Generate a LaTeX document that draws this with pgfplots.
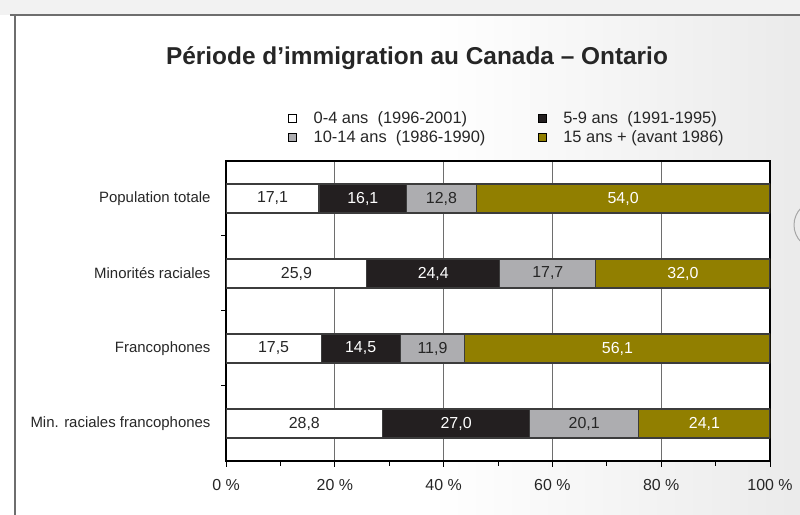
\documentclass[border=0pt]{standalone}
\usepackage{fontspec}
\setmainfont{Liberation Sans}
\usepackage{pgfplots}
\usepackage{pgfplotstable}
\pgfplotsset{compat=1.18}
\definecolor{barBlack}{RGB}{35,31,32}
\definecolor{barGray}{RGB}{173,173,176}
\definecolor{barOlive}{RGB}{145,127,0}
\definecolor{edgeGray}{RGB}{60,60,60}
\definecolor{gridGray}{RGB}{110,110,110}
\definecolor{frameGray}{RGB}{110,110,110}

\pgfplotstableread{
cat a b c d
0 17.1 16.1 12.8 54.0
1 25.9 24.4 17.7 32.0
2 17.5 14.5 11.9 56.1
3 28.8 27.0 20.1 24.1
}\immdata

\begin{document}
\begin{tikzpicture}[x=1bp,y=1bp]
\useasboundingbox (0,0) rectangle (800,515);
% faint background texture
\shade[left color=white, right color=black!8] (430,0) rectangle (800,515);
\fill[black!5] (0,500) rectangle (800,515);
\draw[frameGray, line width=1.4bp] (10,500) -- (800,500);
\draw[frameGray, line width=1.4bp] (15,500) -- (15,0);
\draw[gray!70, line width=1bp] (818,290) circle (24);

\node[font=\bfseries\fontsize{24.5}{28}\selectfont, text=black!85] at (417,457) {Période d’immigration au Canada – Ontario};

\begin{axis}[
  at={(226bp,54bp)}, anchor=south west,
  scale only axis,
  width=544bp, height=300bp,
  xbar stacked,
  bar width=29bp,
  xmin=0, xmax=100,
  ymin=-0.5, ymax=3.5,
  y dir=reverse,
  axis background/.style={fill=white},
  axis line style={black, line width=1.2bp},
  xtick={0,20,40,60,80,100},
  xticklabels={0 \%,20 \%,40 \%,60 \%,80 \%,100 \%},
  minor xtick={10,30,50,70,90},
  ytick={0,1,2,3},
  yticklabels={Population totale,Minorités raciales\ ,Francophones,Min. raciales francophones},
  minor ytick={0.5,1.5,2.5},
  xtick pos=left, ytick pos=left,
  tick align=outside,
  major tick length=6bp, minor tick length=5bp,
  every tick/.style={black, line width=1bp},
  y tick style={draw=none},
  minor y tick style={draw=black, line width=1bp},
  xmajorgrids=true,
  major x grid style={gridGray, line width=1bp},
  yticklabel style={font=\fontsize{15}{17}\selectfont, text=black!85, xshift=-6bp},
  xticklabel style={font=\fontsize{16}{18}\selectfont, text=black!85, yshift=-9bp},
  /pgf/number format/.cd, use comma, fixed, fixed zerofill, precision=1, assume math mode=true,
  /pgfplots/.cd,
  nodes near coords,
  every node near coord/.append style={anchor=center, font=\fontsize{16}{18}\selectfont},
  legend columns=2,
  legend cell align=left,
  legend style={at={(rel axis cs:0.108,1.18)}, anchor=north west, draw=none, fill=none,
    font=\fontsize{16.5}{19}\selectfont, text=black!85, row sep=2bp,
    /tikz/every odd column/.append style={column sep=15bp}},
  legend image code/.code={\draw[#1, draw=black, line width=0.7bp] (0bp,-4bp) rectangle (8bp,4bp);},
]
\addplot[fill=white, draw=edgeGray, line width=1.1bp,
  every node near coord/.append style={text=black!85}] table[x=a, y=cat]{\immdata};
\addplot[fill=barBlack, draw=edgeGray, line width=1.1bp,
  every node near coord/.append style={text=white}] table[x=b, y=cat]{\immdata};
\addplot[fill=barGray, draw=edgeGray, line width=1.1bp,
  every node near coord/.append style={text=black!85}] table[x=c, y=cat]{\immdata};
\addplot[fill=barOlive, draw=edgeGray, line width=1.1bp,
  every node near coord/.append style={text=white}] table[x=d, y=cat]{\immdata};
\addlegendentry{\makebox[222bp][l]{0-4 ans\ \ (1996-2001)}}
\addlegendentry{5-9 ans\ \ (1991-1995)}
\addlegendentry{\makebox[222bp][l]{10-14 ans\ \ (1986-1990)}}
\addlegendentry{15 ans + (avant 1986)}
\end{axis}
\end{tikzpicture}
\end{document}
